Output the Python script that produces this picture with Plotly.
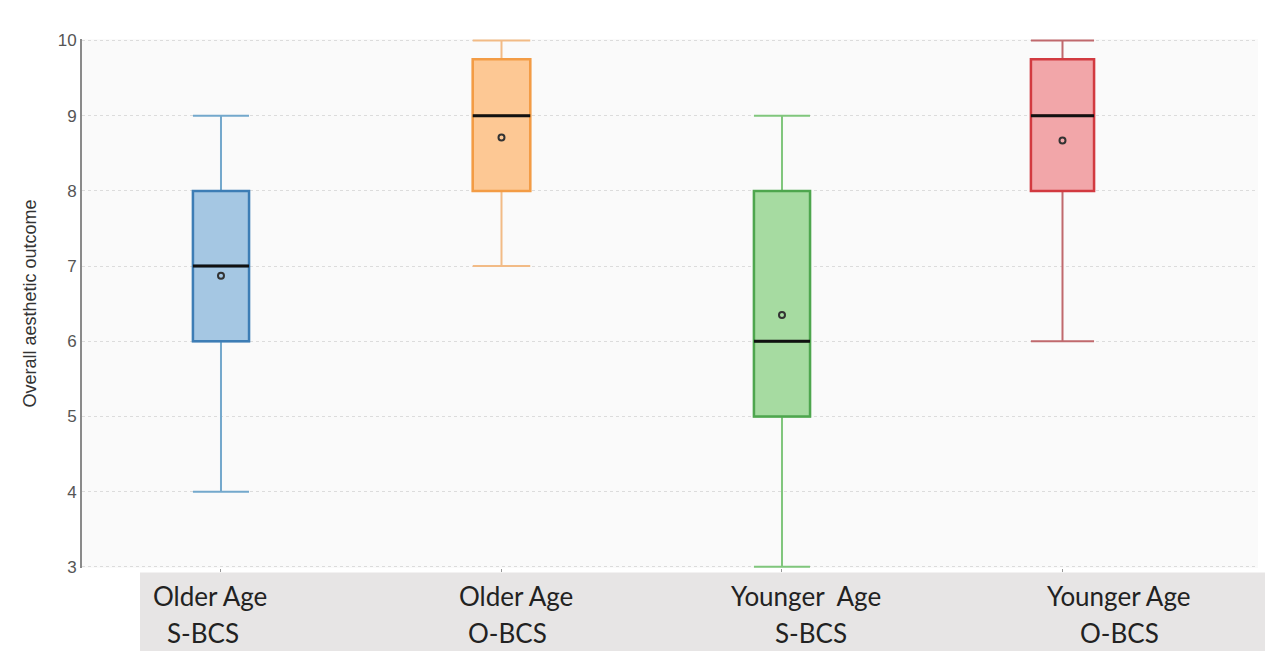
import plotly.graph_objects as go

# ---- data ----
categories = ["Older Age S-BCS", "Older Age O-BCS", "Younger Age S-BCS", "Younger Age O-BCS"]
label_line1 = ["Older Age", "Older Age", "Younger  Age", "Younger Age"]
label_line2 = ["S-BCS", "O-BCS", "S-BCS", "O-BCS"]
lower_fence = [4, 7, 3, 6]
q1_values = [6, 8, 5, 8]
median_values = [7, 9, 6, 9]
q3_values = [8, 9.75, 8, 9.75]
upper_fence = [9, 10, 9, 10]
mean_values = [6.87, 8.71, 6.35, 8.67]
y_ticks = [3, 4, 5, 6, 7, 8, 9, 10]

# ---- styles ----
fill_colors = ["#a5c7e3", "#fdc894", "#a6dba1", "#f2a6a9"]
edge_colors = ["#3d7db5", "#f39c45", "#4ea64e", "#d23a40"]
whisker_colors = ["#73a8cc", "#f2bb86", "#80c67c", "#c0696d"]
box_widths = [0.2, 0.205, 0.2, 0.225]
label_shift1 = [-11, 15, 24, 57]
label_shift2 = [-18, 6, 29, 57]

fig = go.Figure()

for i, cat in enumerate(categories):
    w = box_widths[i]
    # whiskers (full box drawn in whisker colour)
    fig.add_trace(go.Box(
        x=[cat], q1=[q1_values[i]], median=[median_values[i]], q3=[q3_values[i]],
        lowerfence=[lower_fence[i]], upperfence=[upper_fence[i]],
        width=w, whiskerwidth=1, line=dict(color=whisker_colors[i], width=2),
        fillcolor="rgba(0,0,0,0)", showlegend=False, hoverinfo="skip"))
    # box body
    fig.add_trace(go.Box(
        x=[cat], q1=[q1_values[i]], median=[median_values[i]], q3=[q3_values[i]],
        lowerfence=[q1_values[i]], upperfence=[q3_values[i]],
        width=w, whiskerwidth=0, line=dict(color=edge_colors[i], width=2.5),
        fillcolor=fill_colors[i], showlegend=False))
    # median line in black
    fig.add_trace(go.Box(
        x=[cat], q1=[median_values[i]], median=[median_values[i]], q3=[median_values[i]],
        lowerfence=[median_values[i]], upperfence=[median_values[i]],
        width=w, whiskerwidth=0, line=dict(color="#111111", width=3),
        fillcolor="rgba(0,0,0,0)", showlegend=False, hoverinfo="skip"))
    # label lines
    fig.add_annotation(x=cat, xref="x", y=0, yref="paper", yanchor="middle",
                       yshift=-28, xshift=label_shift1[i], text=label_line1[i],
                       showarrow=False, font=dict(family="Lato", size=26, color="#222222"))
    fig.add_annotation(x=cat, xref="x", y=0, yref="paper", yanchor="middle",
                       yshift=-65, xshift=label_shift2[i], text=label_line2[i],
                       showarrow=False, font=dict(family="Lato", size=26, color="#222222"))

# means
fig.add_trace(go.Scatter(
    x=categories, y=mean_values, mode="markers",
    marker=dict(symbol="circle-open", size=6, color="#333333", line=dict(width=2)),
    showlegend=False))

# gray label band
fig.add_shape(type="rect", xref="paper", yref="paper",
              x0=0.0493, x1=1.02, y0=-0.0085, y1=-0.2,
              fillcolor="#e7e5e5", line=dict(width=0), layer="below")

fig.update_layout(
    width=1265, height=643,
    margin=dict(l=74, r=15, t=31, b=83),
    paper_bgcolor="#ffffff", plot_bgcolor="#fafafa",
    boxmode="overlay",
    font=dict(family="Liberation Sans"),
)
fig.update_xaxes(
    type="category", categoryorder="array", categoryarray=categories,
    range=[-0.4955, 3.697], showticklabels=False, showgrid=False,
    ticks="outside", ticklen=3, tickcolor="#999999", showline=False, zeroline=False)
fig.update_yaxes(
    range=[2.985, 10.02], tickvals=y_ticks, showgrid=True, gridcolor="#dcdcdc",
    griddash="dot", gridwidth=1, showline=True, linecolor="#8a8a8a", linewidth=2,
    ticks="", tickfont=dict(size=17, color="#555555"), zeroline=False, automargin=False,
    title=dict(text="Overall aesthetic outcome", font=dict(size=18, color="#333333"), standoff=16))

fig.write_html("out.html")
